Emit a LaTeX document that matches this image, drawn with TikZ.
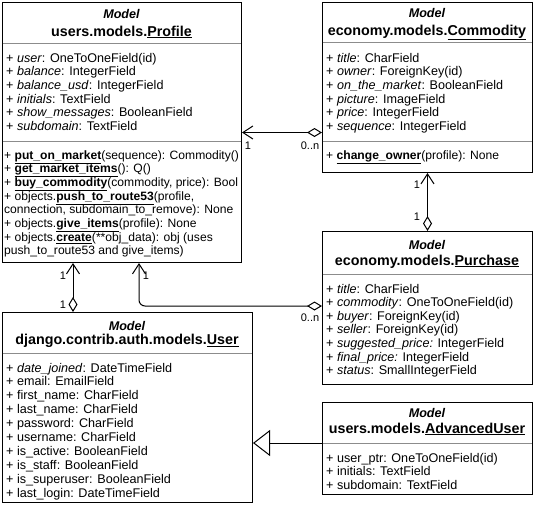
\documentclass[tikz,border=0pt]{standalone}
\usepackage{fontspec}
\setmainfont{Liberation Sans}
\usetikzlibrary{arrows.meta}
\definecolor{sepgray}{RGB}{140,140,140}
\tikzset{
 umlbox/.style={draw=black, line width=1pt, anchor=north west, inner sep=0pt, fill=white},
 sepline/.style={draw=sepgray, line width=0.8pt},
 row/.style={anchor=base west, inner sep=0pt, font=\fontsize{12.6pt}{14pt}\selectfont},
 mrow/.style={anchor=base west, inner sep=0pt, font=\fontsize{12.1pt}{14pt}\selectfont},
 ttl/.style={anchor=base, inner sep=0pt, font=\fontsize{12.6pt}{14pt}\selectfont\bfseries},
 ttlb/.style={anchor=base, inner sep=0pt, font=\fontsize{14.3pt}{16pt}\selectfont\bfseries},
 mult/.style={inner sep=0pt, font=\fontsize{11pt}{13pt}\selectfont},
 link/.style={line width=1pt, draw=black},
 agg/.style={link, {Diamond[open,length=15pt,width=9pt]}-{Straight Barb[length=10pt,width=13pt]}},
 inherit/.style={link, -{Triangle[open,length=17pt,width=26pt]}},
}
\newcommand{\um}[1]{\underline{#1}}
\begin{document}
\begin{tikzpicture}[x=1pt,y=-1pt]
\useasboundingbox (0,0) rectangle (536,504);
% boxes
\node[umlbox, minimum width=239pt, minimum height=260pt] (profile) at (2,2) {};
\node[umlbox, minimum width=210pt, minimum height=170pt] (commodity) at (322,2) {};
\node[umlbox, minimum width=210pt, minimum height=153pt] (purchase) at (322,231) {};
\node[umlbox, minimum width=250pt, minimum height=190pt] (user) at (2,312) {};
\node[umlbox, minimum width=210pt, minimum height=92pt] (advanced) at (322,402) {};
% separators
\draw[sepline] (2.5,43) -- (240.5,43);
\draw[sepline] (2.5,141) -- (240.5,141);
\draw[sepline] (322.5,42) -- (531.5,42);
\draw[sepline] (322.5,141) -- (531.5,141);
\draw[sepline] (322.5,274) -- (531.5,274);
\draw[sepline] (2.5,353) -- (251.5,353);
\draw[sepline] (322.5,443) -- (531.5,443);
% Profile
\node[ttl] (pt1) at (121.5,18.5) {\itshape Model};
\node[ttlb] (pt2) at (121.5,36) {users.models.\um{Profile}};
\node[row] (pa1) at (6,62) {+ \textit{user}: OneToOneField(id)};
\node[row] (pa2) at (6,75.7) {+ \textit{balance}: IntegerField};
\node[row] (pa3) at (6,89.4) {+ \textit{balance\_usd}: IntegerField};
\node[row] (pa4) at (6,103.1) {+ \textit{initials}: TextField};
\node[row] (pa5) at (6,116.8) {+ \textit{show\_messages}: BooleanField};
\node[row] (pa6) at (6,130.5) {+ \textit{subdomain}: TextField};
\node[mrow] (pm1) at (4,159) {+ \textbf{\um{put\_on\_market}}(sequence): Commodity()};
\node[mrow] (pm2) at (4,172.7) {+ \textbf{\um{get\_market\_items}}(): Q()};
\node[mrow] (pm3) at (4,186.4) {+ \textbf{\um{buy\_commodity}}(commodity, price): Bool};
\node[mrow] (pm4) at (4,200.1) {+ objects.\textbf{\um{push\_to\_route53}}(profile,};
\node[mrow] (pm5) at (4,213.8) {connection, subdomain\_to\_remove): None};
\node[mrow] (pm6) at (4,227.5) {+ objects.\textbf{\um{give\_items}}(profile): None};
\node[mrow] (pm7) at (4,241.2) {+ objects.\textbf{\um{create}}(**obj\_data): obj (uses};
\node[mrow] (pm8) at (4,254.9) {push\_to\_route53 and give\_items)};
% Commodity
\node[ttl] (ct1) at (427,17.5) {\itshape Model};
\node[ttlb] (ct2) at (427,35.2) {economy.models.\um{Commodity}};
\node[row] (ca1) at (326,62) {+ \textit{title}: CharField};
\node[row] (ca2) at (326,75.7) {+ \textit{owner}: ForeignKey(id)};
\node[row] (ca3) at (326,89.4) {+ \textit{on\_the\_market}: BooleanField};
\node[row] (ca4) at (326,103.1) {+ \textit{picture}: ImageField};
\node[row] (ca5) at (326,116.8) {+ \textit{price}: IntegerField};
\node[row] (ca6) at (326,130.5) {+ \textit{sequence}: IntegerField};
\node[mrow] (cm1) at (326,159) {+ \textbf{\um{change\_owner}}(profile): None};
% Purchase
\node[ttl] (ut1) at (427,249.2) {\itshape Model};
\node[ttlb] (ut2) at (427,265) {economy.models.\um{Purchase}};
\node[row] (ua1) at (326,293) {+ \textit{title}: CharField};
\node[row] (ua2) at (326,306.6) {+ \textit{commodity}: OneToOneField(id)};
\node[row] (ua3) at (326,320.2) {+ \textit{buyer}: ForeignKey(id)};
\node[row] (ua4) at (326,333.8) {+ \textit{seller}: ForeignKey(id)};
\node[row] (ua5) at (326,347.4) {+ \textit{suggested\_price:} IntegerField};
\node[row] (ua6) at (326,361) {+ \textit{final\_price:} IntegerField};
\node[row] (ua7) at (326,374.6) {+ \textit{status}: SmallIntegerField};
% User
\node[ttl] (dt1) at (127,330) {\itshape Model};
\node[ttlb] (dt2) at (127,344.5) {django.contrib.auth.models.\um{User}};
\node[row] (da1) at (6,372) {+ \textit{date\_joined}: DateTimeField};
\node[row] (da2) at (6,385.9) {+ email: EmailField};
\node[row] (da3) at (6,399.8) {+ first\_name: CharField};
\node[row] (da4) at (6,413.7) {+ last\_name: CharField};
\node[row] (da5) at (6,427.6) {+ password: CharField};
\node[row] (da6) at (6,441.5) {+ username: CharField};
\node[row] (da7) at (6,455.4) {+ is\_active: BooleanField};
\node[row] (da8) at (6,469.3) {+ is\_staff: BooleanField};
\node[row] (da9) at (6,483.2) {+ is\_superuser: BooleanField};
\node[row] (da10) at (6,497.1) {+ last\_login: DateTimeField};
% AdvancedUser
\node[ttl] (at1) at (427,417.7) {\itshape Model};
\node[ttlb] (at2) at (427,433) {users.models.\um{AdvancedUser}};
\node[row] (aa1) at (326,462) {+ user\_ptr: OneToOneField(id)};
\node[row] (aa2) at (326,475.5) {+ initials: TextField};
\node[row] (aa3) at (326,489) {+ subdomain: TextField};
% connectors
\coordinate (h1) at (0,132.5);
\coordinate (v3) at (73,0);
\coordinate (h4) at (0,306);
\coordinate (v4) at (139,0);
\coordinate (h5) at (0,443);
\draw[agg] (commodity.west |- h1) -- (profile.east |- h1);
\draw[agg] (purchase.north) -- (commodity.south);
\draw[agg] (user.north -| v3) -- (profile.south -| v3);
\draw[agg, rounded corners=6pt] (purchase.west |- h4) -| (profile.south -| v4);
\draw[inherit] (advanced.west |- h5) -- (user.east |- h5);
% multiplicities
\node[mult] (m1a) at (248,146) {1};
\node[mult] (m1b) at (310,146) {0..n};
\node[mult] (m2a) at (417,185) {1};
\node[mult] (m2b) at (417,217) {1};
\node[mult] (m3a) at (63,276) {1};
\node[mult] (m3b) at (63,305) {1};
\node[mult] (m4a) at (146,276) {1};
\node[mult] (m4b) at (310,318) {0..n};
\end{tikzpicture}
\end{document}
